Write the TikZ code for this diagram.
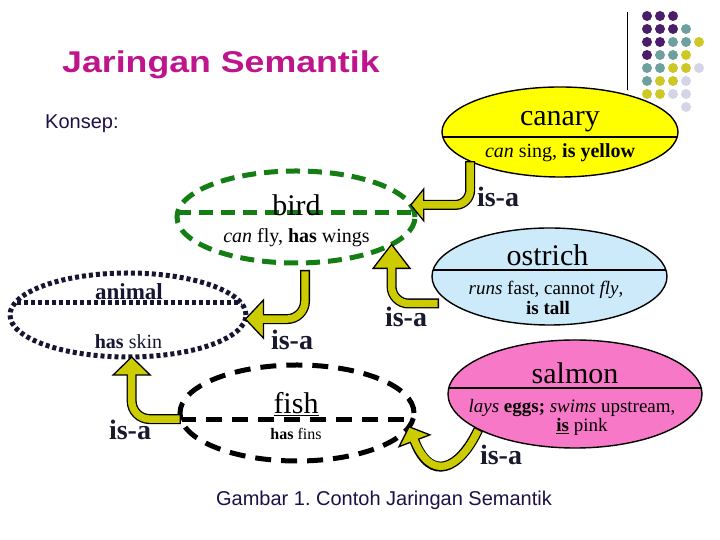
\documentclass[tikz,border=0pt]{standalone}
\usepackage{graphicx}
\usepackage{fontspec}
\setmainfont{Liberation Serif}
\newfontfamily\sansf{Liberation Sans}
\usetikzlibrary{shapes.geometric,calc}
\frenchspacing
\definecolor{titlemag}{RGB}{190,20,140}
\definecolor{navytxt}{RGB}{30,16,70}
\definecolor{dotpurple}{RGB}{75,30,105}
\definecolor{dotteal}{RGB}{110,160,160}
\definecolor{dotyellow}{RGB}{205,200,40}
\definecolor{dotlav}{RGB}{212,212,232}
\definecolor{canaryfill}{RGB}{255,255,0}
\definecolor{ostrichfill}{RGB}{204,234,250}
\definecolor{salmonfill}{RGB}{248,120,200}
\definecolor{birdgreen}{RGB}{20,125,20}
\definecolor{animalnavy}{RGB}{22,22,50}
\definecolor{arrowyellow}{RGB}{204,204,0}
\definecolor{isanavy}{RGB}{25,25,45}
\newcommand{\fsz}[1]{\fontsize{#1}{#1}\selectfont}
\newcommand{\isaarrow}[5]{%
  \draw[shaftout] #1;
  \draw[headtri] (#2) -- ($(#2)+(#3:#4)+(#3+90:#5)$) -- ($(#2)+(#3:#4)+(#3-90:#5)$) -- cycle;
  \draw[shaftin] #1;
}
\begin{document}
\begin{tikzpicture}[x=1pt,y=1pt,
  conc/.style={ellipse,inner sep=0pt,outer sep=0pt},
  ttl/.style={inner sep=0pt,font=\fsz{30}},
  attr/.style={inner sep=0pt,font=\fsz{20}},
  isalabel/.style={inner sep=0pt,font=\fsz{28}\bfseries,text=isanavy},
  shaftout/.style={draw=black,line width=10pt,line cap=butt},
  shaftin/.style={draw=arrowyellow,line width=7.4pt,line cap=butt,shorten <=1.3pt,shorten >=-2.5pt},
  headtri/.style={fill=arrowyellow,draw=black,line width=1.3pt,line join=miter},
  solidell/.style={conc,draw=black,line width=1.4pt},
  birdline/.style={draw=birdgreen,line width=5pt,dash pattern=on 14pt off 8pt},
  animalline/.style={draw=animalnavy,line width=5pt,dash pattern=on 4pt off 3pt},
  fishline/.style={draw=black,line width=5pt,dash pattern=on 16pt off 10pt},
]
\useasboundingbox (0,0) rectangle (720,540);
\fill[white] (0,0) rectangle (720,540);

% decorative dots
\foreach \c/\r/\col in {1/1/dotpurple,2/1/dotpurple,3/1/dotpurple,
  1/2/dotpurple,2/2/dotpurple,3/2/dotpurple,4/2/dotteal,
  1/3/dotpurple,2/3/dotpurple,3/3/dotteal,4/3/dotteal,5/3/dotyellow,
  1/4/dotpurple,2/4/dotteal,3/4/dotteal,4/4/dotyellow,
  1/5/dotteal,2/5/dotteal,3/5/dotyellow,4/5/dotyellow,5/5/dotlav,
  1/6/dotteal,2/6/dotyellow,3/6/dotyellow,4/6/dotlav,
  1/7/dotyellow,2/7/dotyellow,3/7/dotlav,4/7/dotlav,
  4/8/dotlav}
  \fill[\col] ({647+13*(\c-1)},{524-13*(\r-1)}) circle (5);
\draw[line width=0.8pt] (627,528) -- (627,450);

% title and texts
\node[anchor=base west,inner sep=0pt,text=titlemag,font=\sansf\bfseries\fsz{30}] (title) at (62,467) {\scalebox{1.19}[1]{Jaringan Semantik}};
\node[anchor=west,inner sep=0pt,text=navytxt,font=\sansf\fsz{20}] (konsep) at (45,416) {Konsep:};
\node[inner sep=0pt,text=navytxt,font=\sansf\fsz{20}] (caption) at (384,40) {Gambar 1. Contoh Jaringan Semantik};

% canary
\node[solidell,fill=canaryfill,minimum width=236pt,minimum height=90pt] (canary) at (560,408) {};
\begin{scope}
  \clip (560,408) ellipse [x radius=118, y radius=45];
  \draw[line width=1.4pt] ($(canary.west)+(0,-5)$) -- ($(canary.east)+(0,-5)$);
\end{scope}
\node[ttl] (canaryT) at (560,418) {canary};
\node[attr] (canaryA) at (560,387) {{\itshape can} sing, \textbf{is yellow}};

% ostrich
\node[solidell,fill=ostrichfill,minimum width=235pt,minimum height=97pt] (ostrich) at (549.5,263.5) {};
\begin{scope}
  \clip (549.5,263.5) ellipse [x radius=117.5, y radius=48.5];
  \draw[line width=1.4pt] ($(ostrich.west)+(0,6.5)$) -- ($(ostrich.east)+(0,6.5)$);
\end{scope}
\node[ttl] (ostrichT) at (547.5,285) {ostrich};
\node[inner sep=0pt,font=\fsz{19}] (ostrichA1) at (546,250) {{\itshape runs} fast, cannot {\itshape fly},};
\node[inner sep=0pt,font=\fsz{19}] (ostrichA2) at (548,232) {\textbf{is tall}};

% salmon
\node[solidell,fill=salmonfill,minimum width=254pt,minimum height=108pt] (salmon) at (575,146) {};
\begin{scope}
  \clip (575,146) ellipse [x radius=127, y radius=54];
  \draw[line width=1.4pt] ($(salmon.west)+(0,6)$) -- ($(salmon.east)+(0,6)$);
\end{scope}
\node[ttl] (salmonT) at (575,167) {salmon};
\node[inner sep=0pt,font=\fsz{19}] (salmonA1) at (572,132) {{\itshape lays} \textbf{eggs;} {\itshape swims} upstream,};
\node[inner sep=0pt,font=\fsz{19}] (salmonA2) at (582,113) {\underline{\textbf{is}} pink};

% bird
\node[conc,birdline,minimum width=238pt,minimum height=92pt] (bird) at (296,323) {};
\begin{scope}
  \clip (296,323) ellipse [x radius=119, y radius=46];
  \draw[birdline] ($(bird.west)+(0,4)$) -- ($(bird.east)+(0,4)$);
\end{scope}
\node[ttl] (birdT) at (296.5,335) {bird};
\node[attr] (birdA) at (296.5,302) {{\itshape can} fly, \textbf{has} wings};

% animal
\node[conc,animalline,minimum width=236pt,minimum height=84pt] (animal) at (128,225) {};
\begin{scope}
  \clip (128,225) ellipse [x radius=118, y radius=42];
  \draw[animalline] ($(animal.west)+(0,12)$) -- ($(animal.east)+(0,12)$);
\end{scope}
\node[inner sep=0pt,font=\fsz{23}\bfseries,text=animalnavy] (animalT) at (129,248) {animal};
\node[attr,text=animalnavy] (animalA) at (128.5,198) {\textbf{has} skin};

% fish
\node[conc,fishline,minimum width=234pt,minimum height=96pt] (fish) at (297,127) {};
\begin{scope}
  \clip (297,127) ellipse [x radius=117, y radius=48];
  \draw[fishline] ($(fish.west)+(0,-7)$) -- ($(fish.east)+(0,-7)$);
\end{scope}
\node[anchor=base,inner sep=0pt,font=\fsz{30}] (fishT) at (296,126) {\underline{fish}};
\node[inner sep=0pt,font=\fsz{16}] (fishA) at (296,106) {\textbf{has} fins};

% is-a arrows
\coordinate (t1) at (bird.6);
\coordinate (b1) at ($(t1)+(13,0)$);
\isaarrow{[rounded corners=15pt] (canary.198) |- (b1)}{t1}{0}{13}{16}

\coordinate (t2) at (bird.-16);
\coordinate (b2) at ($(t2)+(0,-24)$);
\coordinate (s2) at ($(ostrich.west)+(7,-27)$);
\isaarrow{[rounded corners=17pt] (s2) -| (b2)}{t2}{-90}{24}{18.5}

\coordinate (t3) at (animal.-2);
\coordinate (b3) at ($(t3)+(18,0)$);
\coordinate (s3) at ($(bird.south)+(9,-7)$);
\isaarrow{[rounded corners=18pt] (s3) |- (b3)}{t3}{0}{18}{19}

\coordinate (t4) at (animal.-85);
\coordinate (b4) at ($(t4)+(0,-18)$);
\isaarrow{[rounded corners=18pt] (fish.183) -| (b4)}{t4}{-90}{18}{18.5}

\coordinate (t5) at (fish.-7);
\coordinate (b5) at ($(t5)+(-69:15)$);
\isaarrow{(salmon.200) .. controls +(245:45) and ($(b5)+(-69:45)$) .. (b5)}{t5}{-69}{15}{16.5}

% is-a labels
\node[isalabel] (isa1) at (498,343) {is-a};
\node[isalabel] (isa2) at (406,223) {is-a};
\node[isalabel] (isa3) at (292,200) {is-a};
\node[isalabel] (isa4) at (130,110) {is-a};
\node[isalabel] (isa5) at (501,85) {is-a};
\end{tikzpicture}
\end{document}
